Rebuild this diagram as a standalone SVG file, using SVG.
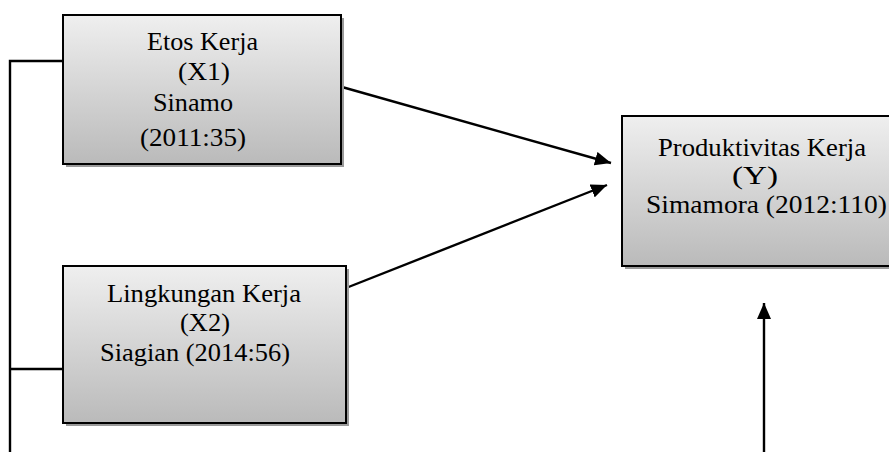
<svg xmlns="http://www.w3.org/2000/svg" width="889" height="452" viewBox="0 0 889 452">
<style>
.box{stroke:#000;stroke-width:2;fill:url(#g)}
.sh{fill:#9a9a9a}
.t{font-family:"Liberation Serif","Times New Roman",serif;font-size:25px;fill:#000}
.c{stroke:#000;stroke-width:2.4;fill:none}
</style>
<defs>
<linearGradient id="g" x1="0" y1="0" x2="0" y2="1">
<stop offset="0" stop-color="#efefef"/>
<stop offset="1" stop-color="#bababa"/>
</linearGradient>
<marker id="ah" markerUnits="userSpaceOnUse" markerWidth="18" markerHeight="14" refX="16" refY="7" orient="auto">
<path d="M0,0 L16,7 L0,14 z" fill="#000"/>
</marker>
</defs>
<rect width="889" height="452" fill="#fff"/>
<g id="connectors">
<polyline class="c" points="63,61 10,61 10,452"/>
<line class="c" x1="10" y1="369" x2="63" y2="369"/>
<line class="c" x1="342" y1="87" x2="611" y2="163" marker-end="url(#ah)"/>
<line class="c" x1="346" y1="288" x2="607" y2="185" marker-end="url(#ah)"/>
<line class="c" x1="764" y1="452" x2="764" y2="303" marker-end="url(#ah)"/>
</g>
<g id="x1">
<rect class="sh" x="66" y="18" width="278" height="149"/>
<rect class="box" x="63" y="15" width="278" height="149"/>
<text class="t" x="147" y="50" textLength="111" lengthAdjust="spacingAndGlyphs">Etos Kerja</text>
<text class="t" x="178" y="80" textLength="52" lengthAdjust="spacingAndGlyphs">(X1)</text>
<text class="t" x="153" y="111" textLength="80" lengthAdjust="spacingAndGlyphs">Sinamo</text>
<text class="t" x="140" y="146" textLength="106" lengthAdjust="spacingAndGlyphs">(2011:35)</text>
</g>
<g id="x2">
<rect class="sh" x="66" y="269" width="283" height="157"/>
<rect class="box" x="63" y="266" width="283" height="157"/>
<text class="t" x="107" y="302" textLength="194" lengthAdjust="spacingAndGlyphs">Lingkungan Kerja</text>
<text class="t" x="180" y="331" textLength="50" lengthAdjust="spacingAndGlyphs">(X2)</text>
<text class="t" x="100" y="361" textLength="190" lengthAdjust="spacingAndGlyphs">Siagian (2014:56)</text>
</g>
<g id="y">
<rect class="sh" x="625" y="119" width="290" height="150"/>
<rect class="box" x="622" y="116" width="290" height="150"/>
<text class="t" x="658" y="156" textLength="208" lengthAdjust="spacingAndGlyphs">Produktivitas Kerja</text>
<text class="t" x="732" y="184" textLength="46" lengthAdjust="spacingAndGlyphs">(Y)</text>
<text class="t" x="646" y="213" textLength="241" lengthAdjust="spacingAndGlyphs">Simamora (2012:110)</text>
</g>
</svg>
